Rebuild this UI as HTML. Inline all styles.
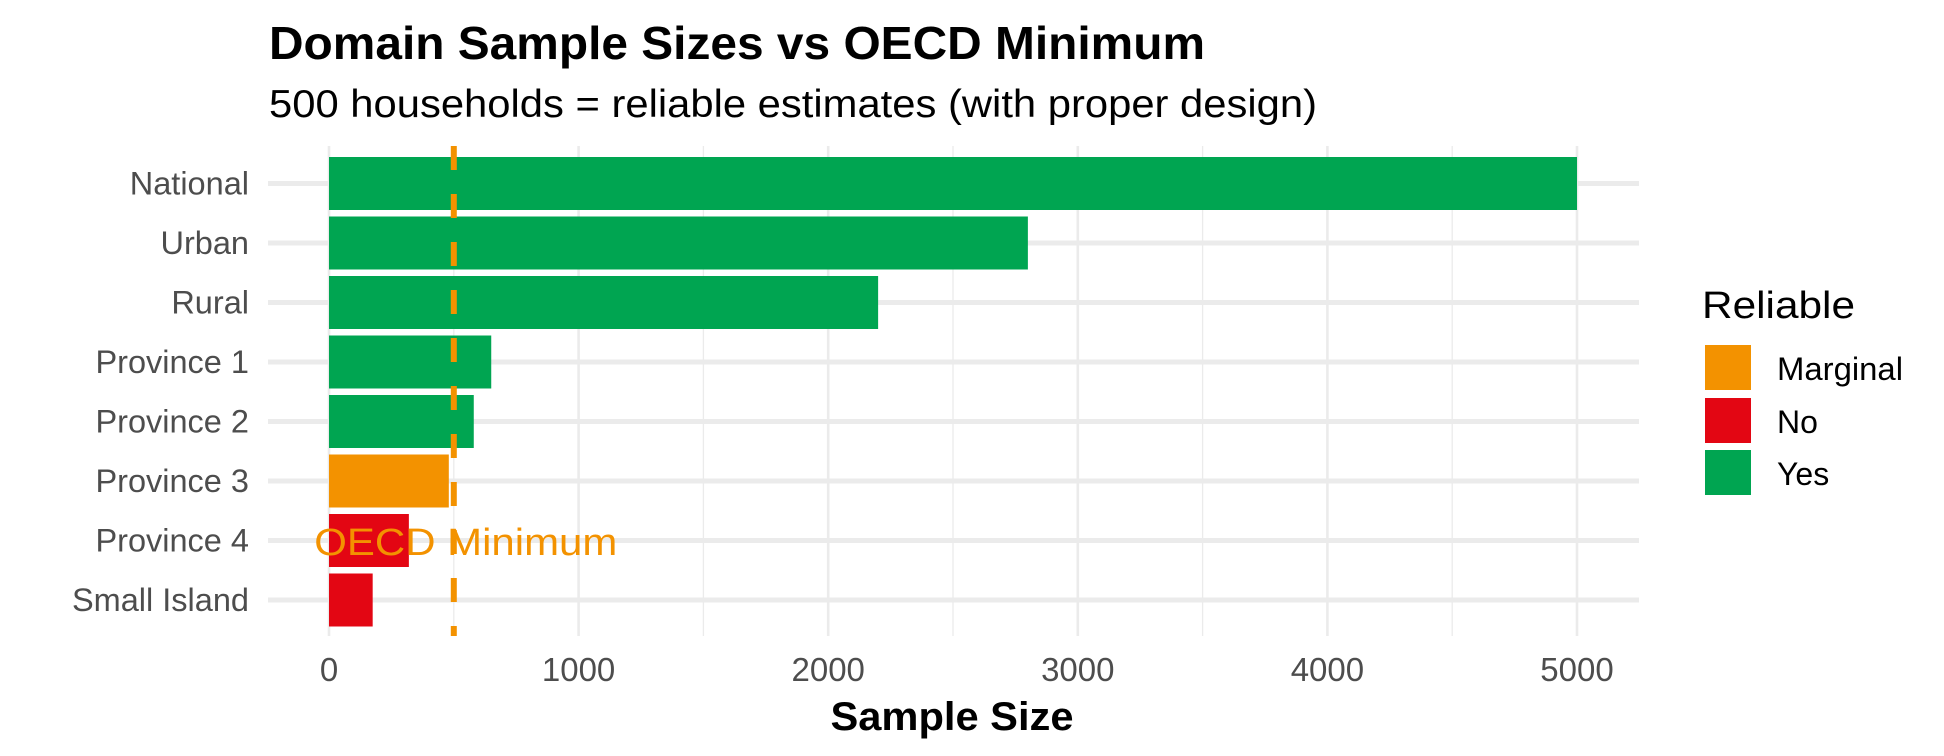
<!DOCTYPE html>
<html><head><meta charset="utf-8"><style>body{margin:0;background:#fff}svg{display:block;font-family:"Liberation Sans",Arial,sans-serif}</style></head>
<body>
<svg id="chart" width="1944" height="756" viewBox="0 0 1944 756" xmlns="http://www.w3.org/2000/svg">
<text x="269" y="59" font-size="46" font-weight="bold" textLength="936" lengthAdjust="spacingAndGlyphs">Domain Sample Sizes vs OECD Minimum</text>
<text x="269" y="117" font-size="39" textLength="1048" lengthAdjust="spacingAndGlyphs">500 households = reliable estimates (with proper design)</text>
<g id="grid"></g><g id="bars"></g><g id="ref"></g><g id="axes"></g>
<text x="952" y="730" font-size="40" font-weight="bold" text-anchor="middle" textLength="243" lengthAdjust="spacingAndGlyphs">Sample Size</text>
<g>
<text x="1702" y="318" font-size="38" textLength="153" lengthAdjust="spacingAndGlyphs">Reliable</text>
<rect x="1705" y="345" width="46" height="45" fill="#F39200"/>
<text x="1777" y="380" font-size="32" textLength="126" lengthAdjust="spacingAndGlyphs">Marginal</text>
<rect x="1705" y="398" width="46" height="45" fill="#E30613"/>
<text x="1777" y="433" font-size="32">No</text>
<rect x="1705" y="450" width="46" height="45" fill="#00A551"/>
<text x="1777" y="485" font-size="32">Yes</text>
</g>
</svg>
<script>
const categories=["National","Urban","Rural","Province 1","Province 2","Province 3","Province 4","Small Island"];
const values=[5000,2800,2200,650,580,480,320,175];
const status=["Yes","Yes","Yes","Yes","Yes","Marginal","No","No"];
const xTicks=[0,1000,2000,3000,4000,5000];
const threshold=[500];
const colors={Yes:"#00A551",No:"#E30613",Marginal:"#F39200"};
const NS="http://www.w3.org/2000/svg";
const xs=v=>329+v*(1577-329)/5000;
const ys=i=>183.5+i*59.5;
const pLeft=268,pRight=1639,pTop=146,pBottom=636;
function mk(t,a,p){const e=document.createElementNS(NS,t);for(const k in a)e.setAttribute(k,a[k]);p.appendChild(e);return e;}
const grid=document.getElementById('grid'),bars=document.getElementById('bars'),ref=document.getElementById('ref'),axes=document.getElementById('axes');
for(let i=0;i<xTicks.length-1;i++){const m=(xTicks[i]+xTicks[i+1])/2;
const g=mk('line',{x1:xs(m),x2:xs(m),y1:pTop,y2:pBottom,stroke:'#ebebeb','stroke-width':1.3},grid);

}
xTicks.forEach(t=>{const g=mk('line',{x1:xs(t),x2:xs(t),y1:pTop,y2:pBottom,stroke:'#ebebeb','stroke-width':2.6},grid);


const l=mk('text',{x:xs(t),y:681,'font-size':33,fill:'#4d4d4d','text-anchor':'middle'},axes);l.textContent=t;

});
categories.forEach((c,i)=>{const g=mk('line',{x1:pLeft,x2:pRight,y1:ys(i),y2:ys(i),stroke:'#ebebeb','stroke-width':5},grid);


const b=mk('rect',{x:xs(0),y:ys(i)-26.5,width:xs(values[i])-xs(0),height:53,fill:colors[status[i]]},bars);


const l=mk('text',{x:249,y:ys(i)+11,'font-size':32.5,fill:'#4d4d4d','text-anchor':'end'},axes);l.textContent=c;

});
const r=mk('line',{x1:xs(threshold[0]),x2:xs(threshold[0]),y1:pTop,y2:pBottom,stroke:'#F39200','stroke-width':6,'stroke-dasharray':'24 24'},ref);


const rl=mk('text',{x:xs(threshold[0])+12,y:555,'font-size':38,fill:'#F39200','text-anchor':'middle',textLength:303,lengthAdjust:'spacingAndGlyphs'},ref);rl.textContent='OECD Minimum';


</script>
</body></html>
